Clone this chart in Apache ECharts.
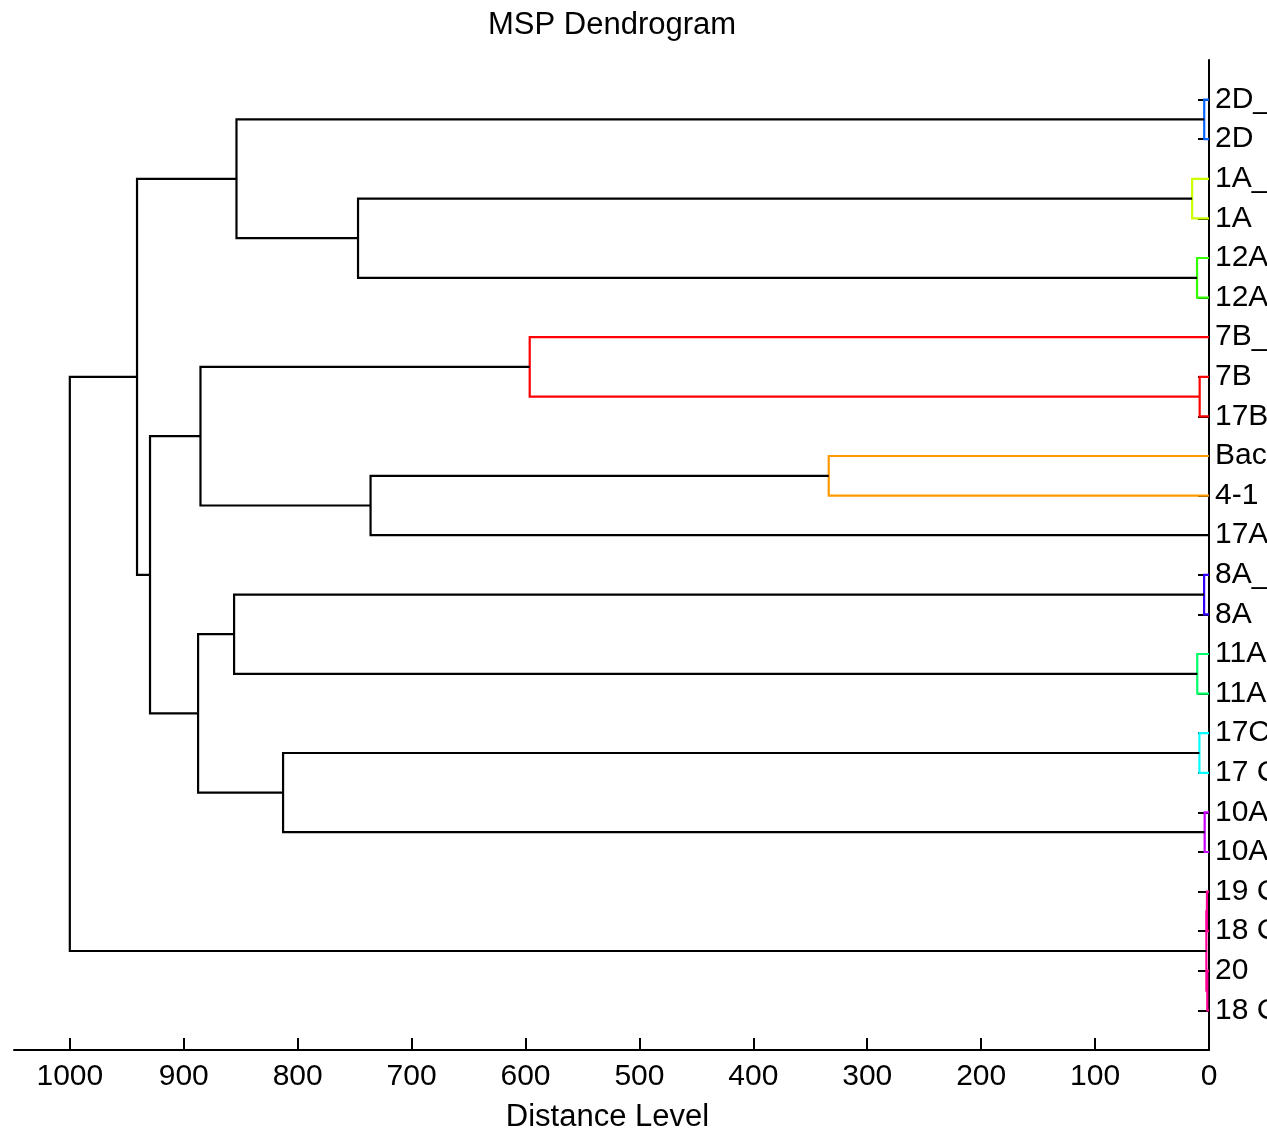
<!DOCTYPE html>
<html>
<head>
<meta charset="utf-8">
<script src="https://cdn.jsdelivr.net/npm/echarts@6/dist/echarts.min.js"></script>
<style>
html,body{margin:0;padding:0;background:#fff;}
#chart{width:1267px;height:1136px;}
</style>
</head>
<body>
<div id="chart"></div>
<script>
// Leaf labels in display order (top to bottom), leaf i sits at y = i
const leafNames = ["2D_", "2D", "1A_", "1A", "12A", "12A", "7B_", "7B", "17B", "Bac", "4-1", "17A",
  "8A_", "8A", "11A", "11A", "17C", "17 C", "10A", "10A", "19 C", "18 C", "20", "18 C"];
// Linkage: node (25 + k) joins mergeLeft[k] and mergeRight[k] at mergeHeight[k]
const mergeLeft   = [23, 21, 26, 1, 13, 19, 8, 17, 5, 15, 3, 10, 7, 36, 35, 32, 28, 29, 37, 42, 43, 41, 46];
const mergeRight  = [24, 22, 25, 2, 14, 20, 9, 18, 6, 16, 4, 11, 31, 12, 33, 30, 39, 34, 38, 40, 44, 45, 27];
const mergeHeight = [1.5, 1.8, 2.3, 4.2, 4.3, 3.8, 8.2, 8.4, 10.5, 10.3, 14.8, 333.8, 596.3, 736, 747, 812.8, 853.7, 855.8, 885.3, 887.4, 929.6, 941, 1000];
const mergeColor  = ["#ff0099", "#ff0099", "#ff0099", "#0066ff", "#3300ff", "#cc00ff", "#ff0000", "#00ffff",
  "#33ff00", "#00ff66", "#ccff00", "#ff9900", "#ff0000", "#000000", "#000000", "#000000", "#000000",
  "#000000", "#000000", "#000000", "#000000", "#000000", "#000000"];
const xTicks = [0, 100, 200, 300, 400, 500, 600, 700, 800, 900, 1000];

const nLeaf = leafNames.length;
const nodeY = {}, nodeH = {};
for (let i = 1; i <= nLeaf; i++) { nodeY[i] = i; nodeH[i] = 0; }
const segs = [];
mergeLeft.forEach((a, k) => {
  const b = mergeRight[k], h = mergeHeight[k], id = nLeaf + 1 + k;
  nodeY[id] = (nodeY[a] + nodeY[b]) / 2;
  nodeH[id] = h;
  segs.push({
    coords: [[nodeH[a], nodeY[a]], [h, nodeY[a]], [h, nodeY[b]], [nodeH[b], nodeY[b]]],
    lineStyle: { color: mergeColor[k] }
  });
});
const leafTicks = leafNames.map((_, i) => i + 1);
const font = 'Liberation Sans, Arial, sans-serif';

const chart = echarts.init(document.getElementById('chart'));
chart.setOption({
  animation: false,
  backgroundColor: '#fff',
  title: {
    text: 'MSP Dendrogram', left: 483, top: 5,
    textStyle: { fontSize: 31, fontWeight: 'normal', color: '#000', fontFamily: font }
  },
  grid: { left: 14, right: 58, top: 60, bottom: 86, containLabel: false, outerBoundsMode: 'none' },
  xAxis: {
    type: 'value', inverse: true, min: 0, max: 1049, position: 'bottom',
    name: 'Distance Level', nameLocation: 'middle', nameGap: 52,
    nameTextStyle: { fontSize: 31, color: '#000', fontFamily: font, padding: [0, 8, 0, 0] },
    axisLine: { show: true, onZero: false, lineStyle: { color: '#000', width: 2 } },
    axisTick: { show: true, inside: true, length: 12, customValues: xTicks, lineStyle: { color: '#000', width: 2 } },
    axisLabel: { customValues: xTicks, fontSize: 30, color: '#000', margin: 12, fontFamily: font,
      formatter: v => String(Math.round(v)) },
    splitLine: { show: false }
  },
  yAxis: {
    type: 'value', position: 'right', inverse: true, min: 0, max: 25,
    axisLine: { show: true, onZero: false, lineStyle: { color: '#000', width: 2 } },
    axisTick: { show: true, inside: true, length: 11, customValues: leafTicks, lineStyle: { color: '#000', width: 2 } },
    axisLabel: {
      customValues: leafTicks, fontSize: 30, color: '#000', margin: 6, fontFamily: font,
      formatter: v => leafNames[Math.round(v) - 1] || ''
    },
    splitLine: { show: false }
  },
  series: [{
    type: 'lines', coordinateSystem: 'cartesian2d', polyline: true,
    lineStyle: { width: 2.2, opacity: 1 },
    data: segs,
    z: 5
  }]
});
</script>
</body>
</html>
